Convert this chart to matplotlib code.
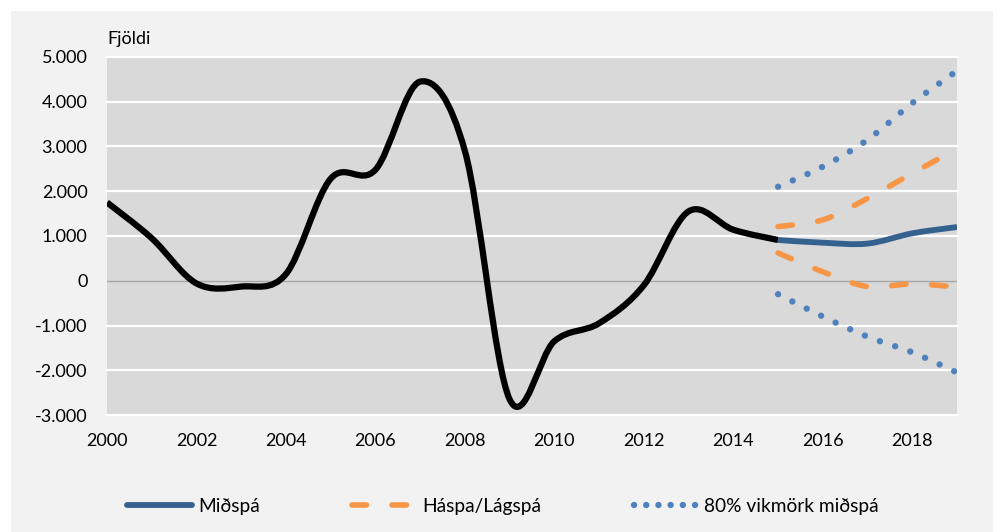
import matplotlib
matplotlib.use("Agg")
import matplotlib.pyplot as plt
from matplotlib.path import Path
from matplotlib.patches import PathPatch, Rectangle
from matplotlib.lines import Line2D
from matplotlib.ticker import FuncFormatter, MultipleLocator

plt.rcParams["font.family"] = ["Lato", "DejaVu Sans"]

# historical values (black line)
years_hist = [2000, 2001, 2002, 2003, 2004, 2005, 2006, 2007,
              2008, 2009, 2010, 2011, 2012, 2013, 2014, 2015]
hist = [1750, 950, -60, -130, 150, 2280, 2480, 4450,
        2900, -2650, -1350, -950, -100, 1550, 1140, 910]

# forecasts
years_fc = [2015, 2016, 2017, 2018, 2019]
mid = [910, 850, 830, 1060, 1200]
high = [1210, 1360, 1840, 2400, 2950]
low = [620, 200, -130, -70, -140]
upper80 = [2100, 2550, 3150, 3970, 4690]
lower80 = [-300, -800, -1250, -1600, -2050]

legend_labels = ["Miðspá", "Háspa/Lágspá", "80% vikmörk miðspá"]

BLACK = "#000000"
BLUE = "#35618f"
ORANGE = "#f79646"
DOTBLUE = "#4f81bd"


def smooth_path(xs, ys):
    """Excel-style smoothed line as a cubic Bezier path through the points."""
    n = len(xs)
    pts = list(zip(xs, ys))
    verts = [pts[0]]
    codes = [Path.MOVETO]
    for i in range(n - 1):
        p0 = pts[max(i - 1, 0)]
        p1 = pts[i]
        p2 = pts[i + 1]
        p3 = pts[min(i + 2, n - 1)]
        c1 = (p1[0] + (p2[0] - p0[0]) / 6, p1[1] + (p2[1] - p0[1]) / 6)
        c2 = (p2[0] - (p3[0] - p1[0]) / 6, p2[1] - (p3[1] - p1[1]) / 6)
        verts += [c1, c2, p2]
        codes += [Path.CURVE4] * 3
    return Path(verts, codes)


def add_curve(ax, xs, ys, **kw):
    patch = PathPatch(smooth_path(xs, ys), fill=False, transform=ax.transData, **kw)
    ax.add_patch(patch)


fig = plt.figure(figsize=(10, 5.32), dpi=100, facecolor="white")
fig.add_artist(Rectangle((0.011, 0), 0.982, 1 - 11 / 532, transform=fig.transFigure,
                         facecolor="#f2f2f2", edgecolor="none", zorder=-10))
ax = fig.add_axes([0.107, 0.2199, 0.85, 0.673])
ax.set_facecolor("#d9d9d9")

ax.set_xlim(2000, 2019)
ax.set_ylim(-3000, 5000)
ax.xaxis.set_major_locator(MultipleLocator(2))
ax.yaxis.set_major_locator(MultipleLocator(1000))
ax.yaxis.set_major_formatter(FuncFormatter(lambda v, p: f"{int(v):,}".replace(",", ".")))

for v in range(-3000, 5001, 1000):
    if v == 0:
        ax.axhline(v, color="#a6a6a6", lw=1, zorder=1)
    else:
        ax.axhline(v, color="white", lw=1.6, zorder=1, clip_on=False)

for s in ax.spines.values():
    s.set_visible(False)
ax.tick_params(length=0, labelsize=13, colors="black")
ax.tick_params(axis="y", pad=14)
ax.tick_params(axis="x", pad=13)

add_curve(ax, years_hist, hist, edgecolor=BLACK, lw=4.5, capstyle="butt", zorder=3)
add_curve(ax, years_fc, mid, edgecolor=BLUE, lw=4.2, capstyle="butt", zorder=3)
for series in (high, low):
    add_curve(ax, years_fc, series, edgecolor=ORANGE, lw=4.0,
              linestyle=(0, (2.6, 4.6)), capstyle="round", zorder=3)
for series in (upper80, lower80):
    add_curve(ax, years_fc, series, edgecolor=DOTBLUE, lw=4.6,
              linestyle=(0, (0.01, 2.5)), capstyle="round", zorder=3)

fig.text(0.107, 1 - 39.3 / 532, "Fjöldi", fontsize=13, ha="left", va="center")

handles = [
    Line2D([], [], color=BLUE, lw=4.2, solid_capstyle="round"),
    Line2D([], [], color=ORANGE, lw=4.0, linestyle=(0, (2.6, 4.6)), dash_capstyle="round"),
    Line2D([], [], color=DOTBLUE, lw=4.6, linestyle=(0, (0.01, 1.9)), dash_capstyle="round"),
]
fig.legend(handles, legend_labels, loc="center", bbox_to_anchor=(0.503, 0.0476),
           ncol=3, frameon=False, fontsize=13.8, handlelength=3.4,
           handletextpad=0.3, columnspacing=4.8)

fig.savefig("out.png", dpi=100, facecolor=fig.get_facecolor())
